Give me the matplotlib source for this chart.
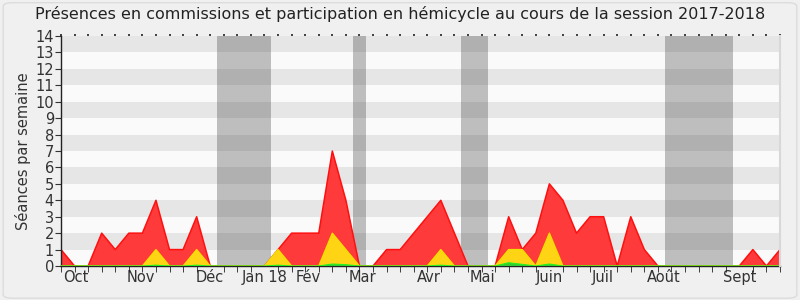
import matplotlib
matplotlib.use("Agg")
import matplotlib.pyplot as plt
from matplotlib.patches import FancyBboxPatch, Rectangle
import numpy as np

# weekly values, session 2017-2018 (54 weeks)
total = [1, 0, 0, 2, 1, 2, 2, 4, 1, 1, 3, 0, 0, 0, 0, 0, 1, 2, 2, 2,
         7, 4, 0, 0, 1, 1, 2, 3, 4, 2, 0, 0, 0, 3, 1, 2, 5, 4, 2, 3,
         3, 0, 3, 1, 0, 0, 0, 0, 0, 0, 0, 1, 0, 1]
commissions = [0, 0, 0, 0, 0, 0, 0, 1, 0, 0, 1, 0, 0, 0, 0, 0, 1, 0, 0, 0,
               2, 1, 0, 0, 0, 0, 0, 0, 1, 0, 0, 0, 0, 1, 1, 0, 2, 0, 0, 0,
               0, 0, 0, 0, 0, 0, 0, 0, 0, 0, 0, 0, 0, 0]
hemicycle = [0, 0, 0, 0, 0, 0, 0, 0.05, 0, 0, 0.05, 0, 0, 0, 0, 0, 0.05, 0, 0, 0,
             0.12, 0.08, 0, 0, 0, 0, 0, 0, 0.05, 0, 0, 0, 0, 0.2, 0.1, 0, 0.12, 0, 0, 0,
             0, 0, 0, 0, 0, 0, 0, 0, 0, 0, 0, 0, 0, 0]

month_labels = ["Oct", "Nov", "Déc", "Jan 18", "Fév", "Mar", "Avr", "Mai",
                "Juin", "Juil", "Août", "Sept"]
month_pos = [1.1, 5.9, 11.0, 15.0, 18.2, 22.2, 27.1, 31.1, 36.0, 39.9, 44.4, 50.0]

holidays = [(11.5, 15.5), (21.5, 22.5), (29.5, 31.5), (44.5, 49.5)]

ymax = 14
weeks = np.arange(len(total))

fig = plt.figure(figsize=(8, 3), dpi=100)
fig.patch.set_facecolor("#f0f0f0")
fig.patches.append(FancyBboxPatch((0.004, 0.006), 0.992, 0.985,
                                  boxstyle="round,pad=0,rounding_size=0.012",
                                  transform=fig.transFigure, facecolor="#f0f0f0",
                                  edgecolor="#dcdcdc", linewidth=1.0, zorder=-10))

ax = fig.add_axes([0.07625, 0.1133, 0.89875, 0.7667])
ax.set_facecolor("#fafafa")
ax.set_xlim(0, len(total) - 1)
ax.set_ylim(0, ymax)

# horizontal stripes
for k in range(ymax):
    if k % 2 == 1:
        ax.axhspan(k, k + 1, color="#e6e6e6", lw=0, zorder=0)

# holiday bands
for a, b in holidays:
    ax.axvspan(a, b, color="#bebebe", lw=0, zorder=0.5)
    for k in range(ymax):
        if k % 2 == 1:
            ax.add_patch(Rectangle((a, k), b - a, 1, facecolor="#b0b0b0",
                                   lw=0, zorder=0.6))

ax.fill_between(weeks, 0, total, facecolor="#ff3a3a", edgecolor="none", zorder=2)
ax.plot(weeks, total, color="#ff1010", lw=1.1, zorder=2.1)
ax.fill_between(weeks, 0, commissions, facecolor="#ffd414", edgecolor="none", zorder=3)
ax.plot(weeks, commissions, color="#f0e000", lw=1.0, zorder=3.1)
ax.fill_between(weeks, 0, hemicycle, facecolor="#33cc33", edgecolor="none", zorder=4)
ax.plot(weeks, hemicycle, color="#22ee22", lw=0.8, zorder=4.1)

for s in ["top", "right"]:
    ax.spines[s].set_visible(False)
ax.spines["left"].set_color("#222222")
ax.spines["bottom"].set_color("#222222")
ax.spines["left"].set_linewidth(1.0)
ax.spines["bottom"].set_linewidth(1.0)
ax.plot([1, 1], [0, 1], transform=ax.transAxes, color="#d8d8d8", lw=1.5,
        clip_on=False, zorder=5)

ax.set_yticks(range(ymax + 1))
ax.tick_params(axis="y", labelsize=10.5, colors="#333333", length=4, pad=1)
ax.set_xticks(weeks, minor=True)
ax.set_xticks(month_pos)
ax.set_xticklabels(month_labels)
ax.tick_params(axis="x", which="major", length=0, labelsize=10.5, colors="#333333", pad=3)
ax.tick_params(axis="x", which="minor", length=4, color="#222222", bottom=True, top=False)

# tiny dots along the top edge
sec = ax.secondary_xaxis("top")
sec.spines["top"].set_visible(False)
sec.set_xticks([])
sec.set_xticks(weeks, minor=True)
sec.tick_params(axis="x", which="minor", length=1.5, width=1.2, color="#222222")

ax.set_ylabel("Séances par semaine", fontsize=10.5, color="#333333", labelpad=3)
fig.suptitle("Présences en commissions et participation en hémicycle au cours de la session 2017-2018",
             fontsize=11.5, color="#222222", y=0.98)

fig.savefig("out.png", dpi=100, facecolor=fig.get_facecolor())
